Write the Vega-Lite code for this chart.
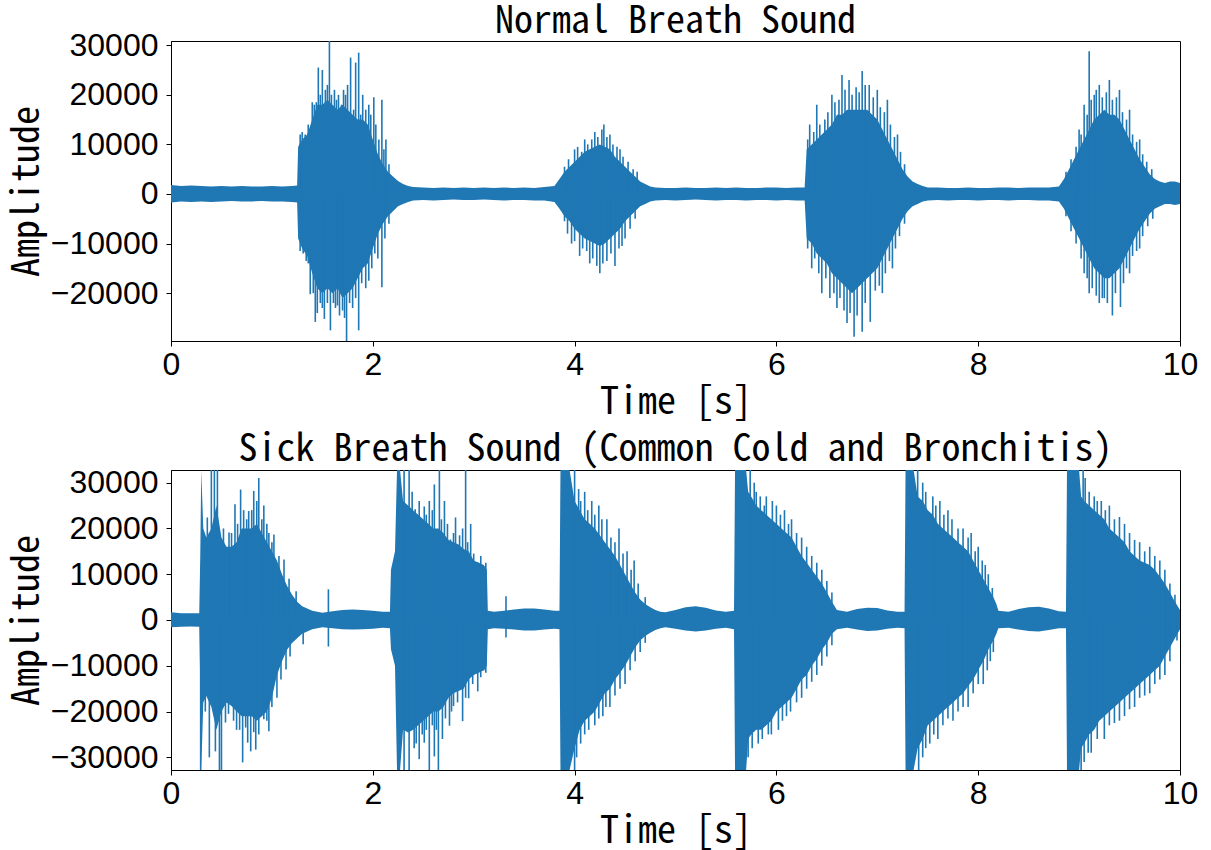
{
  "$schema": "https://vega.github.io/schema/vega-lite/v6.json",
  "background": "white",
  "padding": {"left": 7, "top": 2, "right": 0, "bottom": 0},
  "spacing": 8,
  "datasets": {
    "normalEnv": [
      {"t":0,"lo":-1700,"hi":1800},{"t":0.1,"lo":-1500,"hi":1600},{"t":0.2,"lo":-1600,"hi":1700},{"t":0.3,"lo":-1500,"hi":1600},{"t":0.4,"lo":-1600,"hi":1500},{"t":0.5,"lo":-1500,"hi":1600},{"t":0.6,"lo":-1400,"hi":1500},{"t":0.7,"lo":-1500,"hi":1600},{"t":0.8,"lo":-1500,"hi":1500},{"t":0.9,"lo":-1400,"hi":1500},{"t":1.0,"lo":-1500,"hi":1600},{"t":1.1,"lo":-1500,"hi":1500},{"t":1.2,"lo":-1600,"hi":1600},{"t":1.25,"lo":-1700,"hi":1700},
      {"t":1.26,"lo":-9000,"hi":9500},{"t":1.3,"lo":-11000,"hi":11000},{"t":1.35,"lo":-12500,"hi":12000},{"t":1.4,"lo":-16000,"hi":15000},{"t":1.45,"lo":-19000,"hi":18000},{"t":1.5,"lo":-20000,"hi":18000},{"t":1.55,"lo":-19000,"hi":19000},{"t":1.6,"lo":-20000,"hi":18000},{"t":1.65,"lo":-19000,"hi":17000},{"t":1.7,"lo":-21000,"hi":18000},{"t":1.75,"lo":-20000,"hi":17000},{"t":1.8,"lo":-19000,"hi":16000},{"t":1.85,"lo":-17000,"hi":15000},{"t":1.9,"lo":-15000,"hi":15000},{"t":1.95,"lo":-14000,"hi":14000},{"t":2.0,"lo":-11000,"hi":11000},{"t":2.05,"lo":-8000,"hi":8000},{"t":2.1,"lo":-6000,"hi":6000},{"t":2.15,"lo":-4500,"hi":4500},{"t":2.2,"lo":-3500,"hi":3500},{"t":2.25,"lo":-2500,"hi":2600},{"t":2.3,"lo":-2000,"hi":2000},{"t":2.35,"lo":-1600,"hi":1600},
      {"t":2.4,"lo":-1300,"hi":1400},{"t":2.5,"lo":-1200,"hi":1300},{"t":2.6,"lo":-1300,"hi":1200},{"t":2.7,"lo":-1200,"hi":1300},{"t":2.8,"lo":-1100,"hi":1200},{"t":2.9,"lo":-1200,"hi":1300},{"t":3.0,"lo":-1200,"hi":1200},{"t":3.1,"lo":-1100,"hi":1300},{"t":3.2,"lo":-1200,"hi":1200},{"t":3.3,"lo":-1300,"hi":1300},{"t":3.4,"lo":-1200,"hi":1200},{"t":3.5,"lo":-1200,"hi":1300},{"t":3.6,"lo":-1300,"hi":1200},{"t":3.7,"lo":-1300,"hi":1400},{"t":3.8,"lo":-1600,"hi":1600},
      {"t":3.85,"lo":-3000,"hi":3000},{"t":3.9,"lo":-4500,"hi":4500},{"t":3.95,"lo":-5500,"hi":5500},{"t":4.0,"lo":-7000,"hi":6500},{"t":4.05,"lo":-8000,"hi":7500},{"t":4.1,"lo":-9000,"hi":8500},{"t":4.15,"lo":-9500,"hi":9000},{"t":4.2,"lo":-10000,"hi":9500},{"t":4.25,"lo":-10500,"hi":10000},{"t":4.3,"lo":-10000,"hi":9500},{"t":4.35,"lo":-9000,"hi":9000},{"t":4.4,"lo":-8000,"hi":7500},{"t":4.45,"lo":-7000,"hi":6500},{"t":4.5,"lo":-5500,"hi":5500},{"t":4.55,"lo":-4500,"hi":4500},{"t":4.6,"lo":-3500,"hi":3500},{"t":4.65,"lo":-2500,"hi":2500},{"t":4.7,"lo":-2000,"hi":2000},{"t":4.75,"lo":-1500,"hi":1500},
      {"t":4.8,"lo":-1300,"hi":1300},{"t":4.9,"lo":-1200,"hi":1200},{"t":5.0,"lo":-1300,"hi":1200},{"t":5.1,"lo":-1200,"hi":1300},{"t":5.2,"lo":-1100,"hi":1200},{"t":5.3,"lo":-1200,"hi":1200},{"t":5.4,"lo":-1300,"hi":1300},{"t":5.5,"lo":-1200,"hi":1200},{"t":5.6,"lo":-1200,"hi":1300},{"t":5.7,"lo":-1300,"hi":1200},{"t":5.8,"lo":-1200,"hi":1200},{"t":5.9,"lo":-1200,"hi":1300},{"t":6.0,"lo":-1300,"hi":1300},{"t":6.1,"lo":-1200,"hi":1200},{"t":6.2,"lo":-1300,"hi":1300},{"t":6.28,"lo":-1300,"hi":1300},
      {"t":6.3,"lo":-9000,"hi":9000},{"t":6.35,"lo":-10000,"hi":10000},{"t":6.4,"lo":-12000,"hi":11000},{"t":6.45,"lo":-13000,"hi":12000},{"t":6.5,"lo":-14000,"hi":13000},{"t":6.55,"lo":-16000,"hi":14000},{"t":6.6,"lo":-17000,"hi":16000},{"t":6.65,"lo":-18000,"hi":16000},{"t":6.7,"lo":-19000,"hi":17000},{"t":6.75,"lo":-20000,"hi":17000},{"t":6.8,"lo":-19000,"hi":17000},{"t":6.85,"lo":-18000,"hi":17000},{"t":6.9,"lo":-17000,"hi":17000},{"t":6.95,"lo":-16000,"hi":16000},{"t":7.0,"lo":-15000,"hi":15000},{"t":7.05,"lo":-13000,"hi":13000},{"t":7.1,"lo":-11000,"hi":11000},{"t":7.15,"lo":-9000,"hi":9000},{"t":7.2,"lo":-7000,"hi":7000},{"t":7.25,"lo":-5000,"hi":5000},{"t":7.3,"lo":-3500,"hi":3500},{"t":7.35,"lo":-2500,"hi":2500},{"t":7.4,"lo":-2000,"hi":2000},{"t":7.45,"lo":-1500,"hi":1600},
      {"t":7.5,"lo":-1300,"hi":1300},{"t":7.6,"lo":-1200,"hi":1300},{"t":7.7,"lo":-1300,"hi":1200},{"t":7.8,"lo":-1200,"hi":1200},{"t":7.9,"lo":-1200,"hi":1300},{"t":8.0,"lo":-1300,"hi":1200},{"t":8.1,"lo":-1200,"hi":1200},{"t":8.2,"lo":-1200,"hi":1300},{"t":8.3,"lo":-1300,"hi":1300},{"t":8.4,"lo":-1200,"hi":1200},{"t":8.5,"lo":-1200,"hi":1300},{"t":8.6,"lo":-1300,"hi":1300},{"t":8.7,"lo":-1300,"hi":1300},{"t":8.8,"lo":-1500,"hi":1500},
      {"t":8.85,"lo":-3000,"hi":3000},{"t":8.9,"lo":-5000,"hi":5000},{"t":8.95,"lo":-7000,"hi":7000},{"t":9.0,"lo":-9000,"hi":9000},{"t":9.05,"lo":-11000,"hi":11000},{"t":9.1,"lo":-13000,"hi":13000},{"t":9.15,"lo":-15000,"hi":15000},{"t":9.2,"lo":-16000,"hi":16000},{"t":9.25,"lo":-17000,"hi":17000},{"t":9.3,"lo":-17000,"hi":16000},{"t":9.35,"lo":-16000,"hi":16000},{"t":9.4,"lo":-15000,"hi":15000},{"t":9.45,"lo":-13000,"hi":13000},{"t":9.5,"lo":-11000,"hi":11000},{"t":9.55,"lo":-9000,"hi":9000},{"t":9.6,"lo":-7000,"hi":7000},{"t":9.65,"lo":-5500,"hi":5500},{"t":9.7,"lo":-4000,"hi":4000},{"t":9.75,"lo":-3000,"hi":3000},{"t":9.8,"lo":-2500,"hi":2500},{"t":9.85,"lo":-2000,"hi":2200},{"t":9.9,"lo":-2000,"hi":2500},{"t":9.95,"lo":-2200,"hi":2500},{"t":10.0,"lo":-2000,"hi":2200}
    ],
    "normalSpk": [
      {"t":1.40,"lo":0,"hi":18500},{"t":1.46,"lo":0,"hi":25500},{"t":1.50,"lo":0,"hi":25000},{"t":1.53,"lo":0,"hi":21000},{"t":1.57,"lo":0,"hi":30850},{"t":1.62,"lo":0,"hi":21000},{"t":1.66,"lo":0,"hi":20000},{"t":1.71,"lo":0,"hi":21000},{"t":1.75,"lo":0,"hi":22000},{"t":1.78,"lo":0,"hi":27500},{"t":1.83,"lo":0,"hi":26500},{"t":1.86,"lo":0,"hi":28500},{"t":1.90,"lo":0,"hi":20000},{"t":1.96,"lo":0,"hi":18000},{"t":2.01,"lo":0,"hi":19500},{"t":2.09,"lo":0,"hi":19000},{"t":2.13,"lo":0,"hi":11000},
      {"t":1.28,"lo":0,"hi":12000},{"t":1.30,"lo":0,"hi":12500},{"t":1.33,"lo":0,"hi":12000},{"t":1.36,"lo":0,"hi":14000},{"t":1.42,"lo":0,"hi":18000},{"t":1.44,"lo":0,"hi":18500},{"t":1.48,"lo":0,"hi":20000},{"t":1.55,"lo":0,"hi":22000},{"t":1.59,"lo":0,"hi":20000},{"t":1.64,"lo":0,"hi":19000},{"t":1.69,"lo":0,"hi":18000},{"t":1.73,"lo":0,"hi":20000},{"t":1.81,"lo":0,"hi":17000},{"t":1.88,"lo":0,"hi":16000},{"t":1.93,"lo":0,"hi":17000},{"t":1.98,"lo":0,"hi":16000},{"t":2.03,"lo":0,"hi":14000},{"t":2.06,"lo":0,"hi":11000},{"t":2.11,"lo":0,"hi":9000},{"t":2.16,"lo":0,"hi":6000},
      {"t":1.38,"lo":-20200,"hi":0},{"t":1.43,"lo":-25800,"hi":0},{"t":1.48,"lo":-22000,"hi":0},{"t":1.52,"lo":-25200,"hi":0},{"t":1.58,"lo":-27500,"hi":0},{"t":1.63,"lo":-23000,"hi":0},{"t":1.67,"lo":-24500,"hi":0},{"t":1.74,"lo":-29650,"hi":0},{"t":1.80,"lo":-23000,"hi":0},{"t":1.86,"lo":-27500,"hi":0},{"t":1.93,"lo":-19000,"hi":0},{"t":1.99,"lo":-15000,"hi":0},{"t":2.05,"lo":-13000,"hi":0},{"t":2.09,"lo":-18800,"hi":0},
      {"t":1.28,"lo":-11500,"hi":0},{"t":1.31,"lo":-12000,"hi":0},{"t":1.34,"lo":-13500,"hi":0},{"t":1.36,"lo":-14000,"hi":0},{"t":1.41,"lo":-20000,"hi":0},{"t":1.45,"lo":-24000,"hi":0},{"t":1.50,"lo":-23000,"hi":0},{"t":1.55,"lo":-22000,"hi":0},{"t":1.61,"lo":-22000,"hi":0},{"t":1.65,"lo":-22500,"hi":0},{"t":1.70,"lo":-23500,"hi":0},{"t":1.72,"lo":-25000,"hi":0},{"t":1.77,"lo":-22000,"hi":0},{"t":1.83,"lo":-21000,"hi":0},{"t":1.89,"lo":-18000,"hi":0},{"t":1.96,"lo":-17500,"hi":0},{"t":2.02,"lo":-12000,"hi":0},{"t":2.12,"lo":-9000,"hi":0},{"t":2.16,"lo":-6000,"hi":0},
      {"t":4.0,"lo":0,"hi":9000},{"t":4.1,"lo":0,"hi":11000},{"t":4.2,"lo":0,"hi":12500},{"t":4.29,"lo":0,"hi":14000},{"t":4.35,"lo":0,"hi":12000},{"t":4.45,"lo":0,"hi":9000},
      {"t":3.9,"lo":0,"hi":5500},{"t":3.94,"lo":0,"hi":7000},{"t":4.03,"lo":0,"hi":9500},{"t":4.07,"lo":0,"hi":8500},{"t":4.13,"lo":0,"hi":10000},{"t":4.17,"lo":0,"hi":11000},{"t":4.23,"lo":0,"hi":11500},{"t":4.27,"lo":0,"hi":13000},{"t":4.32,"lo":0,"hi":11500},{"t":4.38,"lo":0,"hi":10000},{"t":4.42,"lo":0,"hi":9500},{"t":4.48,"lo":0,"hi":7500},{"t":4.53,"lo":0,"hi":6500},{"t":4.58,"lo":0,"hi":5000},{"t":4.62,"lo":0,"hi":4500},
      {"t":3.97,"lo":-10000,"hi":0},{"t":4.05,"lo":-12500,"hi":0},{"t":4.15,"lo":-14000,"hi":0},{"t":4.25,"lo":-16000,"hi":0},{"t":4.32,"lo":-13500,"hi":0},{"t":4.4,"lo":-14500,"hi":0},{"t":4.5,"lo":-9000,"hi":0},
      {"t":3.9,"lo":-5500,"hi":0},{"t":3.93,"lo":-8000,"hi":0},{"t":4.0,"lo":-9500,"hi":0},{"t":4.08,"lo":-11000,"hi":0},{"t":4.12,"lo":-11500,"hi":0},{"t":4.18,"lo":-13000,"hi":0},{"t":4.22,"lo":-14500,"hi":0},{"t":4.28,"lo":-14000,"hi":0},{"t":4.36,"lo":-12000,"hi":0},{"t":4.44,"lo":-11000,"hi":0},{"t":4.47,"lo":-10500,"hi":0},{"t":4.55,"lo":-7000,"hi":0},{"t":4.6,"lo":-5000,"hi":0},
      {"t":6.33,"lo":0,"hi":14000},{"t":6.4,"lo":0,"hi":18000},{"t":6.55,"lo":0,"hi":20000},{"t":6.65,"lo":0,"hi":24000},{"t":6.72,"lo":0,"hi":23000},{"t":6.85,"lo":0,"hi":24800},{"t":6.92,"lo":0,"hi":22000},{"t":7.0,"lo":0,"hi":21000},{"t":7.1,"lo":0,"hi":19000},{"t":7.2,"lo":0,"hi":12000},
      {"t":6.31,"lo":0,"hi":11000},{"t":6.37,"lo":0,"hi":12500},{"t":6.43,"lo":0,"hi":14000},{"t":6.48,"lo":0,"hi":15000},{"t":6.51,"lo":0,"hi":16500},{"t":6.58,"lo":0,"hi":18500},{"t":6.62,"lo":0,"hi":19000},{"t":6.68,"lo":0,"hi":21000},{"t":6.75,"lo":0,"hi":20000},{"t":6.79,"lo":0,"hi":21500},{"t":6.82,"lo":0,"hi":20500},{"t":6.88,"lo":0,"hi":22000},{"t":6.96,"lo":0,"hi":19500},{"t":7.03,"lo":0,"hi":17500},{"t":7.07,"lo":0,"hi":16500},{"t":7.13,"lo":0,"hi":14000},{"t":7.17,"lo":0,"hi":11500},{"t":7.23,"lo":0,"hi":8500},{"t":7.27,"lo":0,"hi":6000},
      {"t":6.35,"lo":-15000,"hi":0},{"t":6.45,"lo":-20000,"hi":0},{"t":6.53,"lo":-21000,"hi":0},{"t":6.6,"lo":-23000,"hi":0},{"t":6.7,"lo":-26000,"hi":0},{"t":6.77,"lo":-28800,"hi":0},{"t":6.85,"lo":-27800,"hi":0},{"t":6.93,"lo":-25800,"hi":0},{"t":7.05,"lo":-20000,"hi":0},{"t":7.15,"lo":-15000,"hi":0},
      {"t":6.31,"lo":-11000,"hi":0},{"t":6.38,"lo":-13000,"hi":0},{"t":6.42,"lo":-16000,"hi":0},{"t":6.49,"lo":-17000,"hi":0},{"t":6.57,"lo":-20000,"hi":0},{"t":6.63,"lo":-21000,"hi":0},{"t":6.67,"lo":-23500,"hi":0},{"t":6.73,"lo":-24000,"hi":0},{"t":6.8,"lo":-24500,"hi":0},{"t":6.88,"lo":-22000,"hi":0},{"t":6.98,"lo":-19500,"hi":0},{"t":7.02,"lo":-18500,"hi":0},{"t":7.08,"lo":-16000,"hi":0},{"t":7.12,"lo":-13500,"hi":0},{"t":7.18,"lo":-11000,"hi":0},{"t":7.22,"lo":-8500,"hi":0},{"t":7.27,"lo":-6000,"hi":0},
      {"t":9.0,"lo":0,"hi":13000},{"t":9.05,"lo":0,"hi":18000},{"t":9.1,"lo":0,"hi":28800},{"t":9.15,"lo":0,"hi":20000},{"t":9.2,"lo":0,"hi":22000},{"t":9.3,"lo":0,"hi":23000},{"t":9.4,"lo":0,"hi":21000},{"t":9.5,"lo":0,"hi":17000},{"t":9.6,"lo":0,"hi":11000},
      {"t":8.87,"lo":0,"hi":4500},{"t":8.92,"lo":0,"hi":7000},{"t":8.97,"lo":0,"hi":9500},{"t":9.02,"lo":0,"hi":12000},{"t":9.08,"lo":0,"hi":16000},{"t":9.12,"lo":0,"hi":19000},{"t":9.17,"lo":0,"hi":21000},{"t":9.23,"lo":0,"hi":19500},{"t":9.27,"lo":0,"hi":20500},{"t":9.33,"lo":0,"hi":19000},{"t":9.37,"lo":0,"hi":19500},{"t":9.43,"lo":0,"hi":16500},{"t":9.47,"lo":0,"hi":15000},{"t":9.53,"lo":0,"hi":12000},{"t":9.57,"lo":0,"hi":10500},{"t":9.63,"lo":0,"hi":8000},{"t":9.67,"lo":0,"hi":6500},{"t":9.72,"lo":0,"hi":5000},
      {"t":9.05,"lo":-16000,"hi":0},{"t":9.1,"lo":-20000,"hi":0},{"t":9.2,"lo":-22000,"hi":0},{"t":9.25,"lo":-21000,"hi":0},{"t":9.33,"lo":-24500,"hi":0},{"t":9.41,"lo":-22800,"hi":0},{"t":9.5,"lo":-16000,"hi":0},{"t":9.6,"lo":-11000,"hi":0},
      {"t":8.87,"lo":-4500,"hi":0},{"t":8.92,"lo":-7500,"hi":0},{"t":8.97,"lo":-10000,"hi":0},{"t":9.02,"lo":-13000,"hi":0},{"t":9.08,"lo":-17000,"hi":0},{"t":9.13,"lo":-19000,"hi":0},{"t":9.17,"lo":-20500,"hi":0},{"t":9.23,"lo":-21000,"hi":0},{"t":9.28,"lo":-22000,"hi":0},{"t":9.36,"lo":-20000,"hi":0},{"t":9.44,"lo":-18000,"hi":0},{"t":9.47,"lo":-15000,"hi":0},{"t":9.53,"lo":-12500,"hi":0},{"t":9.57,"lo":-11500,"hi":0},{"t":9.63,"lo":-8500,"hi":0},{"t":9.68,"lo":-6500,"hi":0},{"t":9.73,"lo":-5000,"hi":0}
    ],
    "sickEnv": [
      {"t":0,"lo":-1600,"hi":1700},{"t":0.1,"lo":-1500,"hi":1500},{"t":0.2,"lo":-1400,"hi":1500},{"t":0.28,"lo":-1500,"hi":1500},
      {"t":0.29,"lo":-14000,"hi":14000},{"t":0.3,"lo":-32768,"hi":32767},{"t":0.32,"lo":-18000,"hi":20000},{"t":0.35,"lo":-16600,"hi":18000},{"t":0.4,"lo":-19000,"hi":20000},{"t":0.45,"lo":-24000,"hi":25000},{"t":0.5,"lo":-20000,"hi":18000},{"t":0.55,"lo":-18000,"hi":16000},{"t":0.6,"lo":-18800,"hi":16000},{"t":0.65,"lo":-20000,"hi":17000},{"t":0.7,"lo":-21000,"hi":20000},{"t":0.75,"lo":-21000,"hi":20000},{"t":0.8,"lo":-21000,"hi":20000},{"t":0.85,"lo":-22000,"hi":21000},{"t":0.9,"lo":-21000,"hi":19000},{"t":0.95,"lo":-20000,"hi":17000},{"t":1.0,"lo":-17000,"hi":15000},{"t":1.05,"lo":-12000,"hi":13000},{"t":1.1,"lo":-9000,"hi":10000},{"t":1.15,"lo":-6500,"hi":7500},{"t":1.2,"lo":-5000,"hi":5500},{"t":1.25,"lo":-4000,"hi":4000},{"t":1.3,"lo":-3000,"hi":3000},{"t":1.35,"lo":-2500,"hi":2500},{"t":1.4,"lo":-2000,"hi":2000},{"t":1.45,"lo":-1800,"hi":1800},
      {"t":1.5,"lo":-1600,"hi":1600},{"t":1.6,"lo":-1800,"hi":1900},{"t":1.7,"lo":-2000,"hi":2200},{"t":1.8,"lo":-2100,"hi":2300},{"t":1.9,"lo":-2000,"hi":2200},{"t":2.0,"lo":-1900,"hi":2000},{"t":2.1,"lo":-1700,"hi":1800},{"t":2.17,"lo":-1800,"hi":1800},
      {"t":2.18,"lo":-6400,"hi":11000},{"t":2.22,"lo":-10000,"hi":15000},{"t":2.24,"lo":-32768,"hi":32767},{"t":2.27,"lo":-32768,"hi":32767},{"t":2.3,"lo":-24000,"hi":26000},{"t":2.35,"lo":-24600,"hi":25000},{"t":2.4,"lo":-24000,"hi":24000},{"t":2.45,"lo":-23000,"hi":23000},{"t":2.5,"lo":-22000,"hi":22000},{"t":2.55,"lo":-21000,"hi":21000},{"t":2.6,"lo":-20000,"hi":20000},{"t":2.65,"lo":-20000,"hi":20000},{"t":2.7,"lo":-19000,"hi":19000},{"t":2.75,"lo":-17000,"hi":17500},{"t":2.8,"lo":-16000,"hi":17000},{"t":2.85,"lo":-15500,"hi":16500},{"t":2.9,"lo":-15000,"hi":15500},{"t":2.95,"lo":-13000,"hi":15000},{"t":3.0,"lo":-12000,"hi":13000},{"t":3.05,"lo":-11500,"hi":12500},{"t":3.1,"lo":-11000,"hi":12000},{"t":3.13,"lo":-10000,"hi":11000},
      {"t":3.14,"lo":-2000,"hi":2000},{"t":3.2,"lo":-1800,"hi":1800},{"t":3.3,"lo":-1900,"hi":2000},{"t":3.4,"lo":-2100,"hi":2300},{"t":3.5,"lo":-2300,"hi":2500},{"t":3.6,"lo":-2300,"hi":2500},{"t":3.7,"lo":-2100,"hi":2300},{"t":3.8,"lo":-1900,"hi":2000},{"t":3.85,"lo":-2000,"hi":2000},
      {"t":3.86,"lo":-32768,"hi":32767},{"t":3.95,"lo":-32768,"hi":32767},{"t":4.0,"lo":-28000,"hi":26000},{"t":4.05,"lo":-24000,"hi":24000},{"t":4.1,"lo":-22000,"hi":22000},{"t":4.15,"lo":-21000,"hi":21000},{"t":4.2,"lo":-20000,"hi":20000},{"t":4.25,"lo":-18000,"hi":18500},{"t":4.3,"lo":-16000,"hi":17000},{"t":4.35,"lo":-15000,"hi":15500},{"t":4.4,"lo":-13000,"hi":14000},{"t":4.45,"lo":-11500,"hi":12000},{"t":4.5,"lo":-10000,"hi":10000},{"t":4.55,"lo":-8000,"hi":8000},{"t":4.6,"lo":-6000,"hi":6000},{"t":4.65,"lo":-4500,"hi":4500},{"t":4.7,"lo":-3500,"hi":3500},{"t":4.75,"lo":-2800,"hi":2800},{"t":4.8,"lo":-2200,"hi":2200},{"t":4.85,"lo":-1800,"hi":1800},
      {"t":4.9,"lo":-1600,"hi":1700},{"t":5.0,"lo":-1900,"hi":2200},{"t":5.1,"lo":-2300,"hi":2800},{"t":5.2,"lo":-2500,"hi":3000},{"t":5.3,"lo":-2300,"hi":2700},{"t":5.4,"lo":-1900,"hi":2100},{"t":5.5,"lo":-1700,"hi":1800},{"t":5.58,"lo":-2000,"hi":2000},
      {"t":5.59,"lo":-32768,"hi":32767},{"t":5.7,"lo":-32768,"hi":32767},{"t":5.72,"lo":-26000,"hi":28000},{"t":5.75,"lo":-25000,"hi":27000},{"t":5.8,"lo":-24000,"hi":25000},{"t":5.85,"lo":-24000,"hi":24000},{"t":5.9,"lo":-23000,"hi":23000},{"t":5.95,"lo":-22000,"hi":22000},{"t":6.0,"lo":-20000,"hi":21000},{"t":6.05,"lo":-19000,"hi":20000},{"t":6.1,"lo":-18000,"hi":19000},{"t":6.15,"lo":-17000,"hi":18000},{"t":6.2,"lo":-15000,"hi":16000},{"t":6.25,"lo":-13000,"hi":14000},{"t":6.3,"lo":-12000,"hi":12500},{"t":6.35,"lo":-10000,"hi":11000},{"t":6.4,"lo":-8500,"hi":9500},{"t":6.45,"lo":-6500,"hi":8000},{"t":6.5,"lo":-5000,"hi":6000},{"t":6.55,"lo":-3000,"hi":4000},{"t":6.6,"lo":-2000,"hi":2200},
      {"t":6.7,"lo":-1700,"hi":1800},{"t":6.8,"lo":-2100,"hi":2400},{"t":6.9,"lo":-2400,"hi":2700},{"t":7.0,"lo":-2300,"hi":2600},{"t":7.1,"lo":-1900,"hi":2100},{"t":7.2,"lo":-1700,"hi":1800},{"t":7.27,"lo":-1800,"hi":1800},
      {"t":7.28,"lo":-32768,"hi":32767},{"t":7.36,"lo":-32768,"hi":32767},{"t":7.4,"lo":-28000,"hi":27000},{"t":7.45,"lo":-26000,"hi":26000},{"t":7.5,"lo":-23000,"hi":24000},{"t":7.55,"lo":-22000,"hi":23000},{"t":7.6,"lo":-21000,"hi":21000},{"t":7.65,"lo":-20000,"hi":20000},{"t":7.7,"lo":-19000,"hi":19000},{"t":7.75,"lo":-18000,"hi":18000},{"t":7.8,"lo":-17000,"hi":17000},{"t":7.85,"lo":-16000,"hi":16000},{"t":7.9,"lo":-14500,"hi":15000},{"t":7.95,"lo":-13000,"hi":13000},{"t":8.0,"lo":-11000,"hi":11000},{"t":8.05,"lo":-9000,"hi":9000},{"t":8.1,"lo":-6500,"hi":7000},{"t":8.15,"lo":-4500,"hi":5000},{"t":8.18,"lo":-3000,"hi":3500},{"t":8.2,"lo":-1800,"hi":2000},
      {"t":8.3,"lo":-1700,"hi":1800},{"t":8.4,"lo":-2100,"hi":2400},{"t":8.5,"lo":-2400,"hi":2800},{"t":8.6,"lo":-2500,"hi":2900},{"t":8.7,"lo":-2200,"hi":2500},{"t":8.8,"lo":-1800,"hi":1900},{"t":8.87,"lo":-1800,"hi":1800},
      {"t":8.88,"lo":-32768,"hi":32767},{"t":9.0,"lo":-32768,"hi":32767},{"t":9.02,"lo":-28000,"hi":27000},{"t":9.05,"lo":-27000,"hi":26000},{"t":9.1,"lo":-25000,"hi":25000},{"t":9.15,"lo":-24000,"hi":24000},{"t":9.2,"lo":-22000,"hi":23000},{"t":9.25,"lo":-21000,"hi":22000},{"t":9.3,"lo":-20000,"hi":20000},{"t":9.35,"lo":-19000,"hi":19000},{"t":9.4,"lo":-18000,"hi":18000},{"t":9.45,"lo":-17000,"hi":17000},{"t":9.5,"lo":-16000,"hi":15000},{"t":9.55,"lo":-15000,"hi":14000},{"t":9.6,"lo":-14000,"hi":13000},{"t":9.65,"lo":-13000,"hi":12500},{"t":9.7,"lo":-12000,"hi":12000},{"t":9.75,"lo":-11000,"hi":11000},{"t":9.8,"lo":-10000,"hi":9500},{"t":9.85,"lo":-8000,"hi":8000},{"t":9.9,"lo":-6000,"hi":6000},{"t":9.95,"lo":-4000,"hi":4000},{"t":10.0,"lo":-2000,"hi":2200}
    ],
    "sickSpk": [
      {"t":0.36,"lo":0,"hi":22400},{"t":0.40,"lo":0,"hi":32767},{"t":0.43,"lo":0,"hi":32767},{"t":0.46,"lo":0,"hi":32767},{"t":0.575,"lo":0,"hi":19100},{"t":0.634,"lo":0,"hi":25300},{"t":0.69,"lo":0,"hi":28500},{"t":0.72,"lo":0,"hi":24000},{"t":0.77,"lo":0,"hi":23800},{"t":0.82,"lo":0,"hi":28200},{"t":0.87,"lo":0,"hi":31000},{"t":0.92,"lo":0,"hi":25000},{"t":0.97,"lo":0,"hi":19000},{"t":1.02,"lo":0,"hi":18700},{"t":1.12,"lo":0,"hi":13200},{"t":1.24,"lo":0,"hi":6300},{"t":1.56,"lo":-5800,"hi":6700},
      {"t":0.52,"lo":0,"hi":20000},{"t":0.6,"lo":0,"hi":19000},{"t":0.66,"lo":0,"hi":21000},{"t":0.75,"lo":0,"hi":22000},{"t":0.8,"lo":0,"hi":24000},{"t":0.85,"lo":0,"hi":26000},{"t":0.9,"lo":0,"hi":22000},{"t":0.95,"lo":0,"hi":21000},{"t":1.0,"lo":0,"hi":17000},{"t":1.07,"lo":0,"hi":14000},{"t":1.17,"lo":0,"hi":9000},
      {"t":0.294,"lo":-32768,"hi":0},{"t":0.38,"lo":-30000,"hi":0},{"t":0.44,"lo":-28700,"hi":0},{"t":0.48,"lo":-32768,"hi":0},{"t":0.50,"lo":-32768,"hi":0},{"t":0.54,"lo":-22400,"hi":0},{"t":0.65,"lo":-24000,"hi":0},{"t":0.71,"lo":-31100,"hi":0},{"t":0.76,"lo":-26800,"hi":0},{"t":0.79,"lo":-28700,"hi":0},{"t":0.84,"lo":-28300,"hi":0},{"t":0.89,"lo":-21000,"hi":0},{"t":0.92,"lo":-21700,"hi":0},{"t":0.97,"lo":-24300,"hi":0},{"t":1.05,"lo":-17000,"hi":0},{"t":1.14,"lo":-10800,"hi":0},{"t":1.31,"lo":-5300,"hi":0},
      {"t":0.34,"lo":-20000,"hi":0},{"t":0.57,"lo":-20500,"hi":0},{"t":0.62,"lo":-22000,"hi":0},{"t":0.68,"lo":-24000,"hi":0},{"t":0.74,"lo":-23500,"hi":0},{"t":0.82,"lo":-24500,"hi":0},{"t":0.87,"lo":-25000,"hi":0},{"t":0.95,"lo":-22000,"hi":0},{"t":1.0,"lo":-19000,"hi":0},{"t":1.09,"lo":-13000,"hi":0},{"t":1.18,"lo":-8000,"hi":0},
      {"t":2.31,"lo":0,"hi":32767},{"t":2.36,"lo":0,"hi":32767},{"t":2.42,"lo":0,"hi":24200},{"t":2.51,"lo":0,"hi":24800},{"t":2.56,"lo":0,"hi":26000},{"t":2.61,"lo":0,"hi":29600},{"t":2.66,"lo":0,"hi":32767},{"t":2.71,"lo":0,"hi":26000},{"t":2.77,"lo":0,"hi":17600},{"t":2.82,"lo":0,"hi":22400},{"t":2.89,"lo":0,"hi":20000},{"t":2.92,"lo":0,"hi":32767},{"t":2.97,"lo":0,"hi":21000},{"t":3.04,"lo":0,"hi":12600},{"t":3.09,"lo":0,"hi":10800},{"t":3.32,"lo":-3800,"hi":5200},
      {"t":2.39,"lo":0,"hi":28000},{"t":2.46,"lo":0,"hi":26000},{"t":2.53,"lo":0,"hi":23000},{"t":2.59,"lo":0,"hi":24000},{"t":2.68,"lo":0,"hi":22000},{"t":2.74,"lo":0,"hi":21000},{"t":2.8,"lo":0,"hi":19000},{"t":2.86,"lo":0,"hi":18500},{"t":2.94,"lo":0,"hi":17000},{"t":3.0,"lo":0,"hi":14500},{"t":3.07,"lo":0,"hi":14000},{"t":3.12,"lo":0,"hi":12500},
      {"t":2.31,"lo":-32768,"hi":0},{"t":2.36,"lo":-32768,"hi":0},{"t":2.41,"lo":-28000,"hi":0},{"t":2.46,"lo":-30400,"hi":0},{"t":2.51,"lo":-26800,"hi":0},{"t":2.56,"lo":-32768,"hi":0},{"t":2.61,"lo":-29800,"hi":0},{"t":2.65,"lo":-32768,"hi":0},{"t":2.69,"lo":-26000,"hi":0},{"t":2.76,"lo":-23100,"hi":0},{"t":2.80,"lo":-18800,"hi":0},{"t":2.89,"lo":-22100,"hi":0},{"t":2.95,"lo":-17100,"hi":0},{"t":3.04,"lo":-15600,"hi":0},{"t":3.10,"lo":-11000,"hi":0},
      {"t":2.43,"lo":-27000,"hi":0},{"t":2.49,"lo":-25000,"hi":0},{"t":2.53,"lo":-24000,"hi":0},{"t":2.59,"lo":-23000,"hi":0},{"t":2.63,"lo":-24000,"hi":0},{"t":2.72,"lo":-21500,"hi":0},{"t":2.78,"lo":-20000,"hi":0},{"t":2.84,"lo":-18000,"hi":0},{"t":2.92,"lo":-17000,"hi":0},{"t":2.99,"lo":-14000,"hi":0},{"t":3.07,"lo":-12500,"hi":0},{"t":3.12,"lo":-11500,"hi":0},
      {"t":4.0,"lo":0,"hi":32767},{"t":4.04,"lo":0,"hi":28600},{"t":4.1,"lo":0,"hi":28000},{"t":4.17,"lo":0,"hi":26000},{"t":4.24,"lo":0,"hi":25000},{"t":4.32,"lo":0,"hi":22000},{"t":4.44,"lo":0,"hi":20000},{"t":4.52,"lo":0,"hi":15000},{"t":4.59,"lo":0,"hi":13000},
      {"t":4.06,"lo":0,"hi":26000},{"t":4.13,"lo":0,"hi":24000},{"t":4.2,"lo":0,"hi":23000},{"t":4.27,"lo":0,"hi":22000},{"t":4.36,"lo":0,"hi":18000},{"t":4.4,"lo":0,"hi":17000},{"t":4.48,"lo":0,"hi":14500},{"t":4.56,"lo":0,"hi":11000},{"t":4.63,"lo":0,"hi":8000},{"t":4.7,"lo":0,"hi":5000},
      {"t":4.0,"lo":-32768,"hi":0},{"t":4.02,"lo":-30000,"hi":0},{"t":4.1,"lo":-25000,"hi":0},{"t":4.2,"lo":-23000,"hi":0},{"t":4.28,"lo":-21000,"hi":0},{"t":4.35,"lo":-19000,"hi":0},{"t":4.5,"lo":-14000,"hi":0},{"t":4.6,"lo":-9000,"hi":0},
      {"t":4.06,"lo":-27000,"hi":0},{"t":4.14,"lo":-24000,"hi":0},{"t":4.24,"lo":-21500,"hi":0},{"t":4.31,"lo":-19000,"hi":0},{"t":4.4,"lo":-16500,"hi":0},{"t":4.45,"lo":-15000,"hi":0},{"t":4.55,"lo":-11000,"hi":0},{"t":4.65,"lo":-7000,"hi":0},{"t":4.7,"lo":-5000,"hi":0},
      {"t":5.74,"lo":0,"hi":32767},{"t":5.78,"lo":0,"hi":30000},{"t":5.84,"lo":0,"hi":27000},{"t":5.9,"lo":0,"hi":27000},{"t":6.0,"lo":0,"hi":25000},{"t":6.08,"lo":0,"hi":24000},{"t":6.15,"lo":0,"hi":22000},{"t":6.3,"lo":0,"hi":16000},{"t":6.45,"lo":0,"hi":11000},
      {"t":5.8,"lo":0,"hi":28000},{"t":5.88,"lo":0,"hi":25000},{"t":5.96,"lo":0,"hi":26000},{"t":6.04,"lo":0,"hi":23000},{"t":6.12,"lo":0,"hi":21000},{"t":6.2,"lo":0,"hi":19000},{"t":6.25,"lo":0,"hi":18000},{"t":6.35,"lo":0,"hi":14000},{"t":6.4,"lo":0,"hi":12500},{"t":6.5,"lo":0,"hi":8500},{"t":6.55,"lo":0,"hi":6000},
      {"t":5.72,"lo":-30000,"hi":0},{"t":5.82,"lo":-27000,"hi":0},{"t":5.95,"lo":-25000,"hi":0},{"t":6.02,"lo":-24000,"hi":0},{"t":6.1,"lo":-21000,"hi":0},{"t":6.25,"lo":-17000,"hi":0},{"t":6.4,"lo":-12000,"hi":0},{"t":6.5,"lo":-8000,"hi":0},
      {"t":5.76,"lo":-28000,"hi":0},{"t":5.86,"lo":-26000,"hi":0},{"t":5.92,"lo":-25000,"hi":0},{"t":6.06,"lo":-22000,"hi":0},{"t":6.14,"lo":-20000,"hi":0},{"t":6.2,"lo":-18000,"hi":0},{"t":6.3,"lo":-15000,"hi":0},{"t":6.35,"lo":-13500,"hi":0},{"t":6.45,"lo":-10000,"hi":0},{"t":6.55,"lo":-5500,"hi":0},
      {"t":7.4,"lo":0,"hi":32767},{"t":7.45,"lo":0,"hi":30000},{"t":7.55,"lo":0,"hi":27000},{"t":7.62,"lo":0,"hi":26000},{"t":7.7,"lo":0,"hi":24000},{"t":7.85,"lo":0,"hi":20000},{"t":7.93,"lo":0,"hi":19000},{"t":8.0,"lo":0,"hi":16000},{"t":8.1,"lo":0,"hi":10000},
      {"t":7.48,"lo":0,"hi":28000},{"t":7.58,"lo":0,"hi":25000},{"t":7.66,"lo":0,"hi":23000},{"t":7.74,"lo":0,"hi":22000},{"t":7.8,"lo":0,"hi":20000},{"t":7.9,"lo":0,"hi":18000},{"t":7.97,"lo":0,"hi":15000},{"t":8.04,"lo":0,"hi":13000},{"t":8.07,"lo":0,"hi":12000},{"t":8.14,"lo":0,"hi":7000},
      {"t":7.41,"lo":-32768,"hi":0},{"t":7.45,"lo":-30000,"hi":0},{"t":7.52,"lo":-27000,"hi":0},{"t":7.6,"lo":-26000,"hi":0},{"t":7.75,"lo":-22000,"hi":0},{"t":7.9,"lo":-19000,"hi":0},{"t":8.05,"lo":-14000,"hi":0},{"t":8.12,"lo":-9000,"hi":0},
      {"t":7.48,"lo":-28000,"hi":0},{"t":7.56,"lo":-25000,"hi":0},{"t":7.65,"lo":-23000,"hi":0},{"t":7.7,"lo":-21500,"hi":0},{"t":7.8,"lo":-20000,"hi":0},{"t":7.85,"lo":-19000,"hi":0},{"t":7.95,"lo":-16000,"hi":0},{"t":8.0,"lo":-14000,"hi":0},{"t":8.09,"lo":-11000,"hi":0},{"t":8.15,"lo":-7000,"hi":0},
      {"t":9.04,"lo":0,"hi":32767},{"t":9.06,"lo":0,"hi":31000},{"t":9.15,"lo":0,"hi":27000},{"t":9.22,"lo":0,"hi":26000},{"t":9.3,"lo":0,"hi":25000},{"t":9.45,"lo":0,"hi":21000},{"t":9.6,"lo":0,"hi":17000},{"t":9.7,"lo":0,"hi":16000},{"t":9.8,"lo":0,"hi":13000},{"t":9.9,"lo":0,"hi":8000},
      {"t":9.1,"lo":0,"hi":28000},{"t":9.18,"lo":0,"hi":26000},{"t":9.26,"lo":0,"hi":24000},{"t":9.35,"lo":0,"hi":22000},{"t":9.4,"lo":0,"hi":22500},{"t":9.5,"lo":0,"hi":19000},{"t":9.55,"lo":0,"hi":17500},{"t":9.65,"lo":0,"hi":15000},{"t":9.75,"lo":0,"hi":14000},{"t":9.85,"lo":0,"hi":11000},{"t":9.95,"lo":0,"hi":5500},
      {"t":9.02,"lo":-32768,"hi":0},{"t":9.05,"lo":-31000,"hi":0},{"t":9.12,"lo":-29000,"hi":0},{"t":9.25,"lo":-26000,"hi":0},{"t":9.4,"lo":-22000,"hi":0},{"t":9.55,"lo":-19000,"hi":0},{"t":9.7,"lo":-16000,"hi":0},{"t":9.85,"lo":-12000,"hi":0},
      {"t":9.09,"lo":-29000,"hi":0},{"t":9.18,"lo":-26000,"hi":0},{"t":9.3,"lo":-23000,"hi":0},{"t":9.35,"lo":-22500,"hi":0},{"t":9.45,"lo":-21000,"hi":0},{"t":9.5,"lo":-19500,"hi":0},{"t":9.6,"lo":-17000,"hi":0},{"t":9.65,"lo":-16500,"hi":0},{"t":9.75,"lo":-14000,"hi":0},{"t":9.8,"lo":-13000,"hi":0},{"t":9.9,"lo":-9000,"hi":0},{"t":9.97,"lo":-4500,"hi":0}
    ]
  },
  "vconcat": [
    {
      "width": 1009,
      "height": 300,
      "title": {"text": "Normal Breath Sound", "offset": -12},
      "layer": [
        {
          "data": {"name": "normalEnv"},
          "mark": {"type": "area", "color": "#1f77b4", "clip": true, "opacity": 1},
          "encoding": {
            "x": {"field": "t", "type": "quantitative", "scale": {"domain": [0, 10], "nice": false}, "axis": {"title": "Time [s]", "values": [0, 2, 4, 6, 8, 10], "format": "d"}},
            "y": {"field": "hi", "type": "quantitative", "scale": {"domain": [-29650, 30850], "nice": false, "zero": false}, "axis": {"title": "Amplitude", "values": [-20000, -10000, 0, 10000, 20000, 30000], "format": "d"}},
            "y2": {"field": "lo"}
          }
        },
        {
          "data": {"name": "normalSpk"},
          "mark": {"type": "rule", "color": "#1f77b4", "strokeWidth": 1.6, "clip": true},
          "encoding": {
            "x": {"field": "t", "type": "quantitative"},
            "y": {"field": "hi", "type": "quantitative"},
            "y2": {"field": "lo"}
          }
        }
      ]
    },
    {
      "width": 1009,
      "height": 300,
      "title": {"text": "Sick Breath Sound (Common Cold and Bronchitis)", "offset": -2},
      "layer": [
        {
          "data": {"name": "sickEnv"},
          "mark": {"type": "area", "color": "#1f77b4", "clip": true, "opacity": 1},
          "encoding": {
            "x": {"field": "t", "type": "quantitative", "scale": {"domain": [0, 10], "nice": false}, "axis": {"title": "Time [s]", "values": [0, 2, 4, 6, 8, 10], "format": "d"}},
            "y": {"field": "hi", "type": "quantitative", "scale": {"domain": [-32768, 32767], "nice": false, "zero": false}, "axis": {"title": "Amplitude", "values": [-30000, -20000, -10000, 0, 10000, 20000, 30000], "format": "d"}},
            "y2": {"field": "lo"}
          }
        },
        {
          "data": {"name": "sickSpk"},
          "mark": {"type": "rule", "color": "#1f77b4", "strokeWidth": 1.6, "clip": true},
          "encoding": {
            "x": {"field": "t", "type": "quantitative"},
            "y": {"field": "hi", "type": "quantitative"},
            "y2": {"field": "lo"}
          }
        }
      ]
    }
  ],
  "config": {
    "view": {"stroke": "black", "strokeWidth": 1},
    "axis": {
      "grid": false,
      "domainColor": "black",
      "tickColor": "black",
      "tickSize": 5,
      "labelFont": "Liberation Sans",
      "labelFontSize": 32,
      "labelColor": "black",
      "labelPadding": 3,
      "labelOverlap": false,
      "labelFlush": false,
      "titleFont": "Noto Sans Mono CJK SC",
      "titleFontSize": 38,
      "titleFontWeight": "normal",
      "titleColor": "black"
    },
    "axisY": {"labelPadding": 8, "titlePadding": 4},
    "axisX": {"titlePadding": 3},
    "title": {"font": "Noto Sans Mono CJK SC", "fontSize": 38, "fontWeight": "normal", "color": "black", "anchor": "middle"}
  }
}
